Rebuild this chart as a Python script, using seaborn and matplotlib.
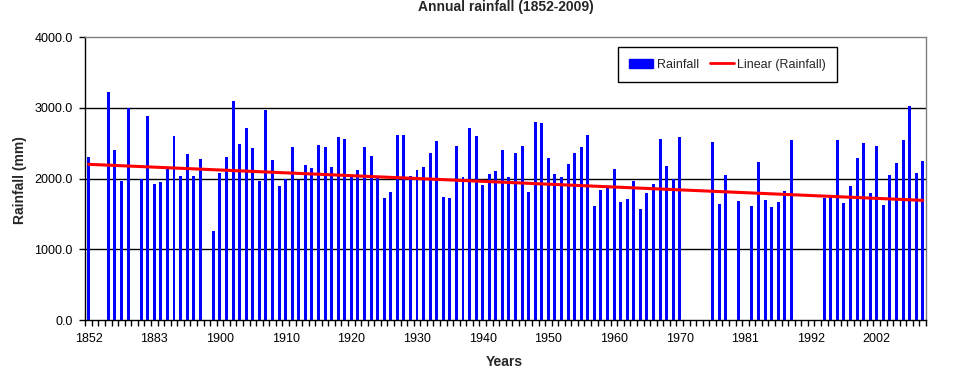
import numpy as np
import pandas as pd
import matplotlib
matplotlib.use("Agg")
import matplotlib.pyplot as plt
import seaborn as sns
from matplotlib.patches import Patch
from matplotlib.lines import Line2D

sns.set_theme(style="white")
plt.rcParams['font.family'] = ['Liberation Sans', 'DejaVu Sans']

# category years (rows of the sheet; some years are missing)
years_early = [1852, 1858, 1861, 1864, 1867, 1870, 1873, 1876, 1878, 1881,
               1883, 1885, 1887, 1889, 1891, 1893, 1895, 1896, 1897, 1899]
years_mid = list(range(1900, 1971))
years_70s = [1971, 1972, 1973, 1974, 1976, 1977, 1978, 1979, 1980, 1981]
years_80s = [1982, 1983, 1984, 1985, 1986, 1987, 1988, 1990, 1991, 1992]
years_late = list(range(1993, 2010))
years = years_early + years_mid + years_70s + years_80s + years_late

nan = np.nan
rainfall = [
    2300, nan, nan, 3233, 2399, 1962, 3000, nan, 2000, 2891,
    1920, 1948, 2136, 2610, 2033, 2356, 2033, 2272, nan, 1259,
    2075, 2300, 3102, 2497, 2713, 2427, 1962, 2976, 2258, 1892,
    2000, 2455, 1977, 2188, 2145, 2483, 2441, 2159, 2596, 2567,
    2019, 2117, 2441, 2314, 2005, 1723, 1808, 2624, 2624, 2033,
    2117, 2159, 2370, 2539, 1737, 1723, 2469, 2019, 2722, 2610,
    1906, 2061, 2103, 2399, 2019, 2370, 2469, 1808, 2807, 2793,
    2286, 2061, 2019, 2202, 2370, 2441, 2624, 1611, 1836, 1864,
    2131, 1667, 1709, 1962, 1569, 1794, 1920, 2567, 2174, 2000,
    2596, nan, nan, nan, nan, 2525, 1639, 2047, nan, 1681,
    nan, 1611, 2230, 1695, 1597, 1667, 1822, 2553, nan, nan,
    nan, nan, 1723, 1737, 2553, 1653, 1892, 2286, 2511, 1794,
    2469, 1625, 2047, 2216, 2553, 3032, 2075, 2244,
]

y_ticks = [0, 1000, 2000, 3000, 4000]

df = pd.DataFrame({'Year': [str(y) for y in years], 'Rainfall': rainfall})
order = list(df['Year'])
pos = np.arange(len(order))

fig = plt.figure(figsize=(9.61, 3.68), dpi=100)
ax = fig.add_axes([0.0888, 0.1304, 0.8748, 0.7682])

sns.barplot(data=df, x='Year', y='Rainfall', order=order, color='#0000FF',
            saturation=1, width=0.45, errorbar=None, linewidth=0,
            edgecolor='none', ax=ax)
# Excel-style linear trend: blank cells count as zero
sns.regplot(x=pos, y=df['Rainfall'].fillna(0).to_numpy(), scatter=False,
            ci=None, color='#FF0000', line_kws={'lw': 2.2}, ax=ax)

ax.set_xlim(-0.5, len(order) - 0.5)
ax.set_ylim(0, 4000)
ax.set_xlabel('')
ax.set_ylabel('')

for y in y_ticks[1:4]:
    ax.axhline(y, color='black', lw=1, zorder=0.5)

ax.set_yticks(y_ticks)
ax.set_yticklabels([f'{v:.1f}' for v in y_ticks], fontsize=9)
ax.tick_params(axis='y', left=True, length=4, width=1, color='black', pad=5,
               labelcolor='black')

ax.set_xticks(pos[::10])
ax.set_xticklabels([str(y) for y in years[::10]], fontsize=9)
ax.set_xticks(np.arange(-0.5, len(order)), minor=True)
ax.tick_params(axis='x', which='major', bottom=True, length=0, pad=9,
               labelcolor='black')
ax.tick_params(axis='x', which='minor', bottom=True, length=4, width=1,
               color='black')

for s in ['left', 'bottom']:
    ax.spines[s].set_color('black')
    ax.spines[s].set_linewidth(1)
for s in ['top', 'right']:
    ax.spines[s].set_color('#808080')
    ax.spines[s].set_linewidth(1)

handles = [Patch(color='#0000FF'), Line2D([], [], color='#FF0000', lw=2)]
leg = ax.legend(handles, ['Rainfall', 'Linear (Rainfall)'], ncol=2,
                loc='center', bbox_to_anchor=(0.764, 0.903), fontsize=9,
                frameon=True, fancybox=False, borderpad=0.9,
                handlelength=1.9, handletextpad=0.3, columnspacing=0.9)
leg.get_frame().set_edgecolor('black')
leg.get_frame().set_linewidth(1)
leg.get_frame().set_alpha(1)

fig.text(506 / 961, 1 - 11 / 368, 'Annual rainfall (1852-2009)', ha='center',
         va='baseline', fontsize=10, fontweight='bold')
fig.text(20 / 961, 1 - 180 / 368, 'Rainfall (mm)', ha='center', va='center',
         rotation=90, fontsize=10, fontweight='bold')
fig.text(504 / 961, 1 - 366 / 368, 'Years', ha='center', va='baseline',
         fontsize=10, fontweight='bold')

fig.savefig('out.png', dpi=100)
